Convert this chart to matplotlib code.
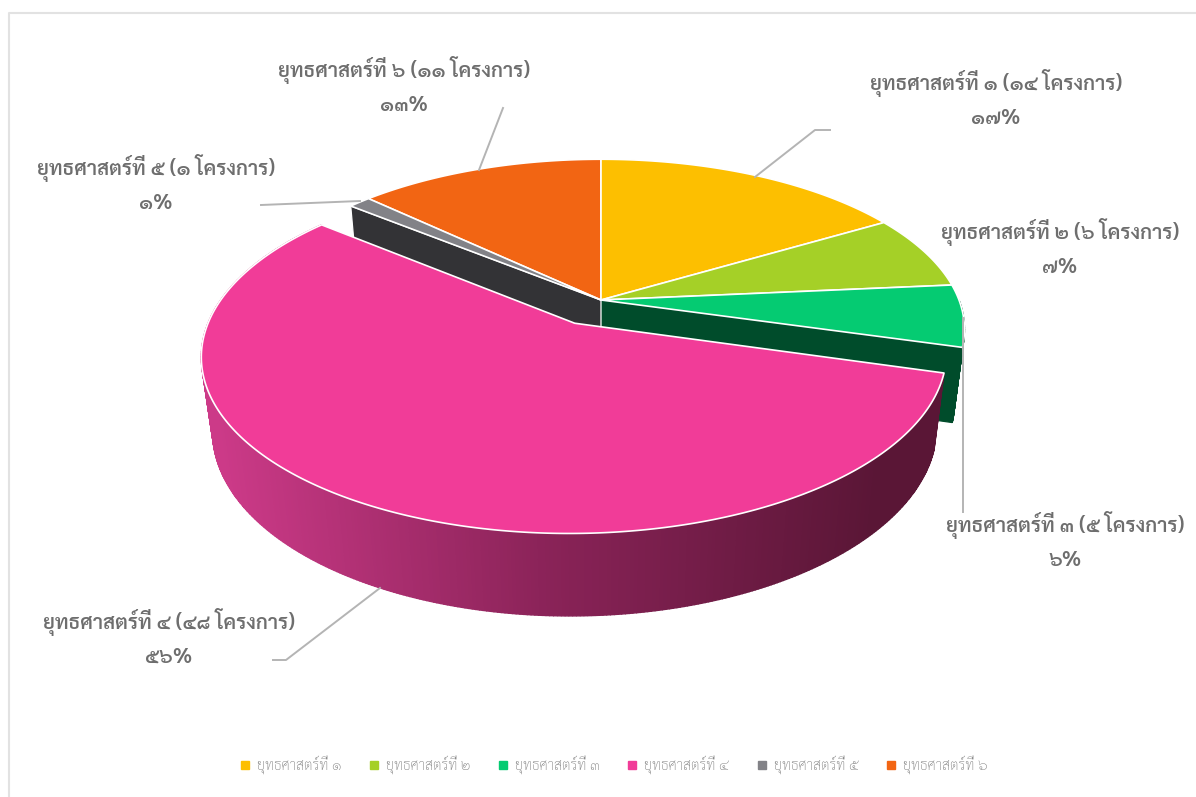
import numpy as np
import matplotlib
matplotlib.use('Agg')
import matplotlib.pyplot as plt
from matplotlib.lines import Line2D
from matplotlib.colors import LinearSegmentedColormap

names = ['ยุทธศาสตร์ที่ ๑', 'ยุทธศาสตร์ที่ ๒', 'ยุทธศาสตร์ที่ ๓',
         'ยุทธศาสตร์ที่ ๔', 'ยุทธศาสตร์ที่ ๕', 'ยุทธศาสตร์ที่ ๖']
projects = [14, 6, 5, 48, 1, 11]
project_labels = ['๑๔', '๖', '๕', '๔๘', '๑', '๑๑']
percent_labels = ['๑๗%', '๗%', '๖%', '๕๖%', '๑%', '๑๓%']
explode = [0, 0, 0, 0.155, 0, 0]
top_colors = ['#FDBF00', '#A5D027', '#05CB72', '#F13C98', '#828287', '#F26513']

label_pos = [(996, 83), (1060, 232), (1065, 525), (169, 622), (156, 168), (404, 70)]
leaders = [[(830, 130), (815, 130), (755, 177)],
           [(963, 318), (963, 512)],
           [(273, 660), (286, 660), (380, 588)],
           [(261, 205), (360, 201)],
           [(503, 108), (479, 170)]]

# perspective of the pie, all in pixels
CX, CY = 601, 300
RX, RY = 358, 165
DIST = 5.8
DEPTH = 75
SHRINK = 0.16


def project(x, y, z=0.0):
    f = DIST / (DIST - y + SHRINK * z)
    return CX + RX * x * f, CY + (RY * y + DEPTH * z) * f


def rim(a0, a1, offset):
    t = np.radians(np.linspace(a0, a1, max(int(a1 - a0) * 2, 6)))
    return np.sin(t) + offset[0], -np.cos(t) + offset[1]


def radial_wall(ax, angle, offset, color, edge):
    rx = np.sin(np.radians(angle)) + offset[0]
    ry = -np.cos(np.radians(angle)) + offset[1]
    quad = [project(offset[0], offset[1]), project(rx, ry),
            project(rx, ry, 1), project(offset[0], offset[1], 1)]
    ax.fill(*zip(*quad), facecolor=color, edgecolor=edge, lw=0.9)


def rim_wall(ax, a0, a1, offset, colorfunc):
    x, y = rim(a0, a1, offset)
    for k in range(len(x) - 1):
        quad = [project(x[k], y[k]), project(x[k + 1], y[k + 1]),
                project(x[k + 1], y[k + 1], 1), project(x[k], y[k], 1)]
        c = colorfunc(quad[0][0])
        ax.fill(*zip(*quad), facecolor=c, edgecolor=c, lw=1.0)


fig = plt.figure(figsize=(11.96, 7.97), dpi=100)
ax = fig.add_axes([0, 0, 1, 1])
ax.set_xlim(0, 1196)
ax.set_ylim(797, 0)
ax.axis('off')

ax.plot([8.5, 8.5, 1196], [797, 13, 13], color='#e2e2e2', lw=1.5)

angles = np.cumsum([0] + projects) / sum(projects) * 360
wall_cmap = LinearSegmentedColormap.from_list('wall', ['#cc3a88', '#8a2358', '#5a1636'])

slices = []
for i in range(len(projects)):
    mid = np.radians((angles[i] + angles[i + 1]) / 2)
    offset = (explode[i] * np.sin(mid), -explode[i] * np.cos(mid))
    slices.append((angles[i], angles[i + 1], offset))

# only the walls that the pulled out slice leaves open
radial_wall(ax, slices[2][1], slices[2][2], '#004C2B', '#004C2B')
rim_wall(ax, 90, slices[2][1], slices[2][2], lambda px: '#004C2B')
radial_wall(ax, slices[4][0], slices[4][2], '#333336', 'white')
rim_wall(ax, slices[3][0], slices[3][1], slices[3][2],
         lambda px: wall_cmap(np.clip((px - 215) / (880 - 215), 0, 1)))

# top faces
for i in [5, 4, 0, 1, 2, 3]:
    a0, a1, offset = slices[i]
    x, y = rim(a0, a1, offset)
    px, py = project(np.r_[offset[0], x], np.r_[offset[1], y])
    ax.fill(px, py, facecolor=top_colors[i], edgecolor='white', lw=1.2, joinstyle='round')

for pts in leaders:
    ax.plot(*zip(*pts), color='#b4b4b4', lw=1.4)

font = ['Sarabun', 'Noto Sans Thai', 'DejaVu Sans']
for i in range(len(names)):
    tx, ty = label_pos[i]
    ax.text(tx, ty, '%s (%s โครงการ)' % (names[i], project_labels[i]), ha='center', va='center',
            fontsize=14.7, color='#6e6e6e', family=font, fontweight='semibold')
    ax.text(tx, ty + 35, percent_labels[i], ha='center', va='center',
            fontsize=14.7, color='#6e6e6e', family=font, fontweight='semibold')

handles = [Line2D([], [], ls='', marker='s', ms=6, color=c) for c in top_colors]
ax.legend(handles, names, loc='center', bbox_to_anchor=(609 / 1196, 1 - 765 / 797), ncol=6, frameon=False,
          prop={'family': font, 'size': 10.3, 'weight': 'light'}, labelcolor='#858585',
          handletextpad=-0.15, columnspacing=1.27)

fig.savefig('out.png', dpi=100)
